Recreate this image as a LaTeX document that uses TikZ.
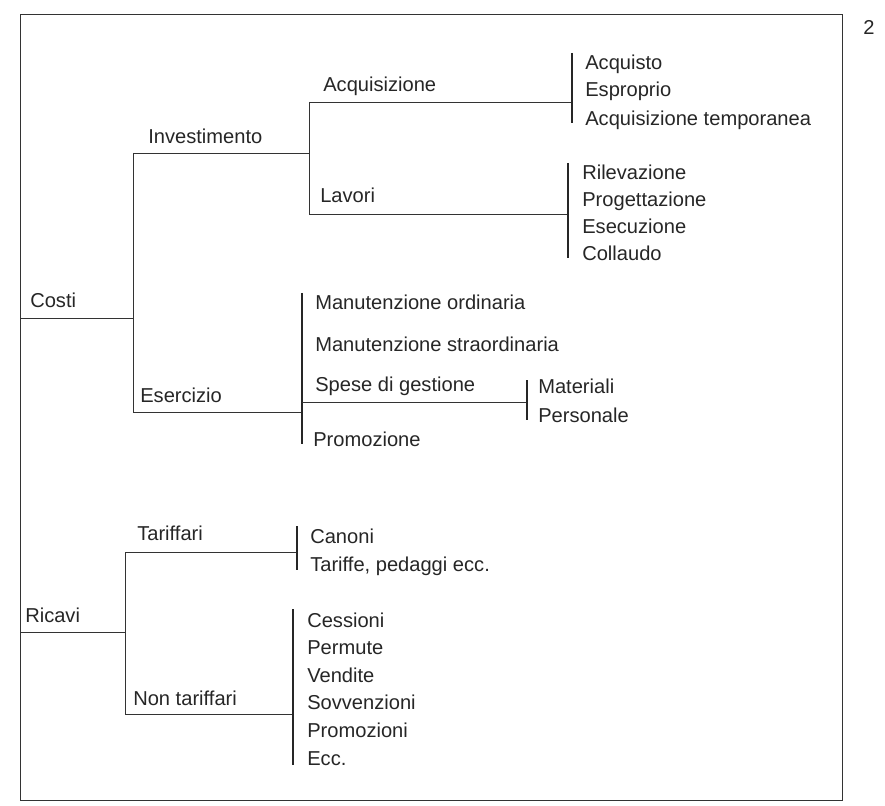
\documentclass[tikz,border=0pt]{standalone}
\usepackage{fontspec}
\setmainfont{Liberation Sans}
\usepackage{tikz}
\usetikzlibrary{positioning}

\begin{document}
\begin{tikzpicture}[x=0.025cm, y=-0.025cm,
            lbl/.style={anchor=base west, inner sep=0pt, text=black!85, font=\fontsize{14.3}{16}\selectfont},
            ramo/.style={draw=black!80, line width=0.7pt},
            barra/.style={draw=black!85, line width=1pt}]

            \useasboundingbox (0,0) rectangle (885,806);
            \draw[ramo] (20,14) rectangle (842,800);
            \node[lbl] (pag) at (863,35) {2};

            % Costi
            \coordinate (costi) at (20,318);
            \coordinate (inv) at (133,153);
            \coordinate (ese) at (133,412);
            \node[lbl] (tcosti) at (30,308) {Costi};
            \draw[ramo] (costi) -- (costi -| inv);
            \draw[ramo] (inv) -- (ese);

            \node[lbl] (tinv) at (148,144) {Investimento};
            \coordinate (acq) at (309,102);
            \coordinate (lav) at (309,214);
            \draw[ramo] (inv) -- (inv -| acq);
            \draw[ramo] (acq) -- (lav);

            \node[lbl] (tacq) at (323,92) {Acquisizione};
            \node[lbl] (tlav) at (320,203) {Lavori};
            \coordinate (acqt) at (572,53);
            \coordinate (acqb) at (572,123);
            \coordinate (lavt) at (568,163);
            \coordinate (lavb) at (568,258);
            \draw[ramo] (acq) -- (acq -| acqt);
            \draw[ramo] (lav) -- (lav -| lavt);
            \draw[barra] (acqt) -- (acqb);
            \draw[barra] (lavt) -- (lavb);

            \node[lbl] (acquisto) at (585,70) {Acquisto};
            \node[lbl] (esproprio) at (585,97) {Esproprio};
            \node[lbl] (acqtemp) at (585,126) {Acquisizione temporanea};

            \node[lbl] (rilev) at (582,180) {Rilevazione};
            \node[lbl] (proget) at (582,207) {Progettazione};
            \node[lbl] (esecuz) at (582,234) {Esecuzione};
            \node[lbl] (collaudo) at (582,261) {Collaudo};

            % Esercizio
            \node[lbl] (tese) at (140,402) {Esercizio};
            \coordinate (eset) at (302,293);
            \coordinate (eseb) at (302,444);
            \coordinate (spese) at (302,402);
            \draw[ramo] (ese) -- (ese -| eset);
            \draw[barra] (eset) -- (eseb);

            \node[lbl] (manord) at (315,310) {Manutenzione ordinaria};
            \node[lbl] (manstr) at (315,351) {Manutenzione straordinaria};
            \node[lbl] (tspese) at (315,391) {Spese di gestione};
            \node[lbl] (promoz) at (313,446) {Promozione};

            \coordinate (matt) at (527,380);
            \coordinate (matb) at (527,420);
            \draw[ramo] (spese) -- (spese -| matt);
            \draw[barra] (matt) -- (matb);
            \node[lbl] (materiali) at (538,393) {Materiali};
            \node[lbl] (personale) at (538,422) {Personale};

            % Ricavi
            \coordinate (ricavi) at (20,632);
            \coordinate (tar) at (125,552);
            \coordinate (ntar) at (125,714);
            \node[lbl] (tricavi) at (25,622) {Ricavi};
            \draw[ramo] (ricavi) -- (ricavi -| tar);
            \draw[ramo] (tar) -- (ntar);

            \node[lbl] (ttar) at (137,540) {Tariffari};
            \node[lbl] (tntar) at (133,705) {Non tariffari};
            \coordinate (cant) at (297,526);
            \coordinate (canb) at (297,570);
            \coordinate (cest) at (293,609);
            \coordinate (cesb) at (293,765);
            \draw[ramo] (tar) -- (tar -| cant);
            \draw[ramo] (ntar) -- (ntar -| cest);
            \draw[barra] (cant) -- (canb);
            \draw[barra] (cest) -- (cesb);

            \node[lbl] (canoni) at (310,543) {Canoni};
            \node[lbl] (tariffe) at (310,571) {Tariffe, pedaggi ecc.};

            \node[lbl] (cessioni) at (307,627) {Cessioni};
            \node[lbl] (permute) at (307,654) {Permute};
            \node[lbl] (vendite) at (307,682) {Vendite};
            \node[lbl] (sovv) at (307,709) {Sovvenzioni};
            \node[lbl] (promozioni) at (307,737) {Promozioni};
            \node[lbl] (ecc) at (307,765) {Ecc.};
        \end{tikzpicture}
\end{document}
